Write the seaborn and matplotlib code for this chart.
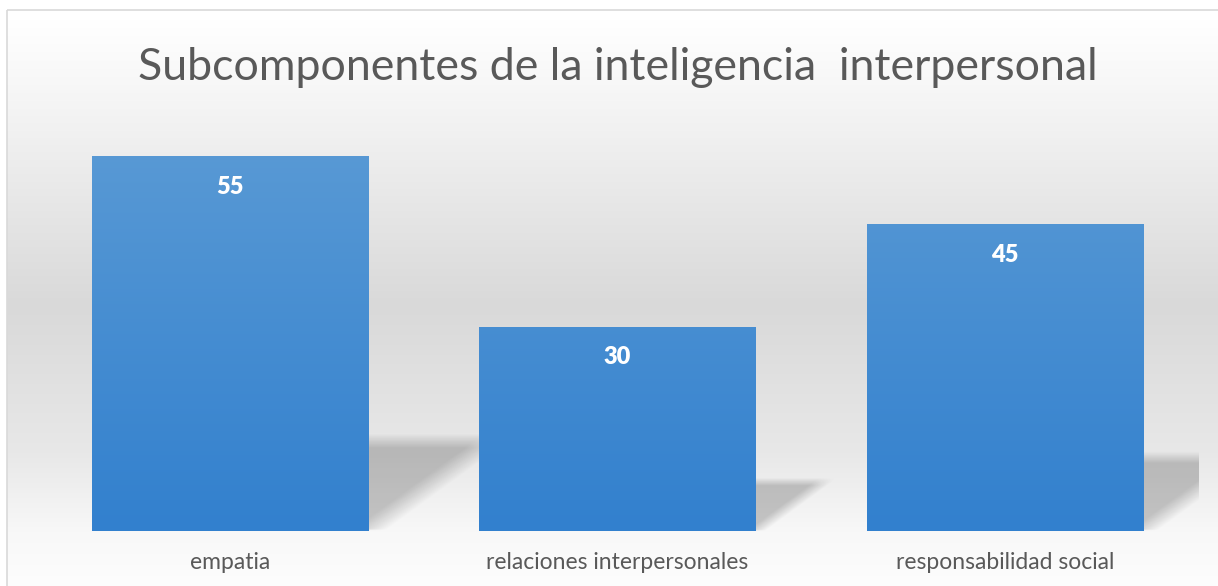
import matplotlib.pyplot as plt
import numpy as np
import seaborn as sns
from matplotlib.colors import LinearSegmentedColormap
from matplotlib.patches import Rectangle

# chart data
categories = ['empatia', 'relaciones interpersonales', 'responsabilidad social']
values = [55, 30, 45]
title = 'Subcomponentes de la inteligencia  interpersonal'

sns.set_theme(style='white')
plt.rcParams['font.family'] = ['Lato', 'DejaVu Sans']

W, H = 1218, 586
fig = plt.figure(figsize=(W / 100, H / 100), dpi=100)
fig.patch.set_facecolor('white')

# background panel: soft grey vertical gradient inside a thin border
bg = fig.add_axes([0, 0, 1, 1], zorder=0)
rows = np.arange(H)
stops_y = [10, 100, 300, 450, 531, 586]
stops_c = [255, 244, 217, 232, 248, 253]
shade = np.interp(rows, stops_y, stops_c) / 255.0
img = np.repeat(shade[:, None], 4, axis=1)
img = np.dstack([img, img, img])
bg.imshow(img, extent=[7, W + 5, H, 10], aspect='auto', interpolation='bilinear')
bg.add_patch(Rectangle((7, 10), W, H, fill=False, edgecolor='#d9d9d9', linewidth=1.2))
bg.set_xlim(0, W)
bg.set_ylim(H, 0)
bg.axis('off')

# main plot
ax = fig.add_axes([36 / W, 55 / H, (1199 - 36) / W, (464 - 55) / H], zorder=1)
ax.patch.set_alpha(0)
sns.barplot(x=categories, y=values, ax=ax, width=0.712, color='#5B9BD5',
            saturation=1, edgecolor='none', zorder=3)
ax.set_ylim(0, 60)
ax.set_xlim(-0.5, len(categories) - 0.5)

# soft perspective shadows behind bars
for patch in ax.patches:
    x1 = patch.get_x() + patch.get_width()
    h = patch.get_height() * 0.24
    w = patch.get_height() * 0.0058
    u = np.linspace(0, 1.3, 140)
    v = np.linspace(0, 1.15, 140)
    U, V = np.meshgrid(u, v)
    a = np.clip((V - U) / 0.28 + 0.5, 0, 1) * np.clip((1 - V) / 0.16 + 0.5, 0, 1)
    a = a * np.clip(V / 0.02, 0, 1)
    rgba = np.zeros((140, 140, 4))
    rgba[..., 3] = a * 0.21
    ax.imshow(rgba, extent=[x1, x1 + w * 1.3, 0, h * 1.15], origin='lower',
              aspect='auto', interpolation='bilinear', zorder=2)

# vertical gradient fill on each bar
bar_cmap = LinearSegmentedColormap.from_list('bar', ['#3280CE', '#5B9BD5'])
grad = np.linspace(0, 1, 256)[:, None]
for patch in ax.patches:
    x0 = patch.get_x()
    im = ax.imshow(grad, cmap=bar_cmap, origin='lower', aspect='auto',
                   extent=[x0, x0 + patch.get_width(), 0, 60], zorder=4)
    im.set_clip_path(patch)

ax.set_xlim(-0.5, len(categories) - 0.5)
ax.set_ylim(0, 60)

ax.bar_label(ax.containers[0], padding=-30, color='white', fontweight='heavy',
             fontsize=17, zorder=5)
for t in ax.texts:
    t.set_zorder(6)

sns.despine(ax=ax, left=True, bottom=True)
ax.set_yticks([])
ax.set_ylabel('')
ax.set_xlabel('')
ax.tick_params(axis='x', length=0, pad=15, labelsize=16.5, labelcolor='#595959')

fig.text(617.5 / W, 1 - 80 / H, title, ha='center', va='baseline',
         fontsize=32.1, color='#595959')

fig.savefig('out.png', dpi=100)
